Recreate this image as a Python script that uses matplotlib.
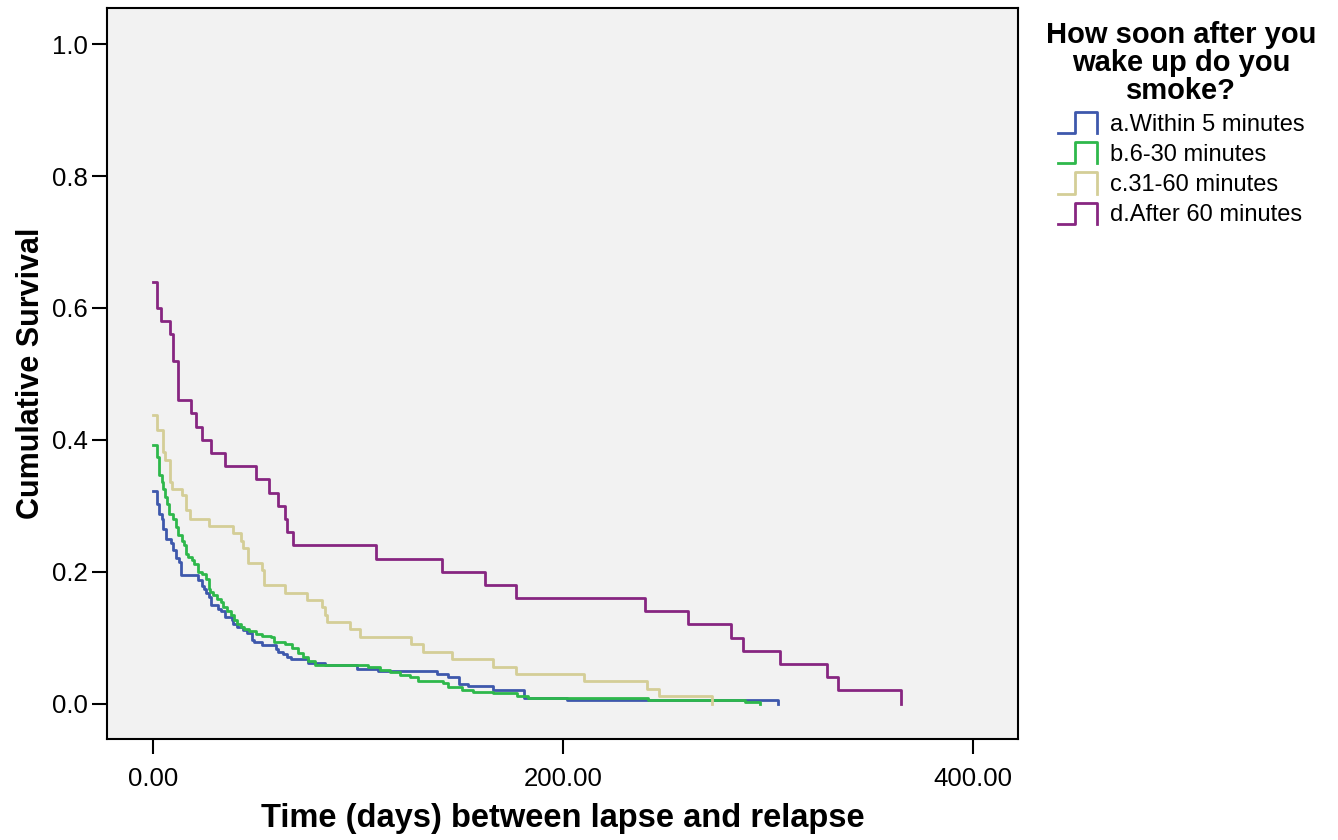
import matplotlib
matplotlib.use('Agg')
import matplotlib.pyplot as plt
from matplotlib.lines import Line2D
from matplotlib.legend_handler import HandlerBase

plt.rcParams['font.family'] = ['Liberation Sans', 'DejaVu Sans']

# Kaplan-Meier steps (days, cumulative survival)
t_a = [0, 1.8, 3.1, 4.2, 5.0, 6.3, 8.6, 9.9, 11.1, 12.7, 13.5, 22.1, 23.7, 24.9, 25.9, 27.3,
       28.1, 31.9, 33.0, 35.1, 38.4, 38.9, 41.1, 44.1, 45.7, 48.1, 49.3, 53.0, 60.0, 61.1,
       63.3, 65.2, 67.3, 75.8, 83.9, 99.3, 109.9, 138.4, 144.0, 149.4, 153.8, 166.0, 181.0,
       201.8, 305.0]
s_a = [0.323, 0.303, 0.288, 0.280, 0.265, 0.249, 0.243, 0.233, 0.221, 0.214, 0.195, 0.187,
       0.179, 0.174, 0.167, 0.161, 0.150, 0.144, 0.141, 0.132, 0.127, 0.120, 0.116, 0.111,
       0.107, 0.096, 0.093, 0.089, 0.083, 0.078, 0.075, 0.070, 0.067, 0.062, 0.058, 0.053,
       0.049, 0.045, 0.040, 0.030, 0.027, 0.020, 0.009, 0.005, 0.0]

t_b = [0, 1.8, 3.1, 4.2, 5.0, 5.9, 7.0, 8.0, 9.9, 11.1, 12.4, 14.0, 15.2, 15.9, 17.2, 18.8,
       20.2, 22.1, 23.7, 25.9, 27.3, 27.8, 29.4, 31.4, 33.0, 34.3, 36.2, 38.0, 39.5, 41.1,
       42.8, 44.4, 47.0, 50.2, 53.0, 57.6, 59.2, 64.4, 67.6, 70.9, 73.3, 75.8, 79.0, 105.0,
       110.7, 115.6, 120.5, 125.4, 129.4, 141.6, 144.0, 150.6, 156.2, 166.0, 177.4, 183.0,
       241.6, 288.8, 296.0]
s_b = [0.392, 0.374, 0.346, 0.336, 0.326, 0.313, 0.303, 0.288, 0.280, 0.268, 0.255, 0.247,
       0.240, 0.227, 0.222, 0.218, 0.212, 0.199, 0.197, 0.189, 0.174, 0.169, 0.164, 0.159,
       0.154, 0.146, 0.140, 0.134, 0.127, 0.120, 0.116, 0.113, 0.110, 0.106, 0.103, 0.101,
       0.093, 0.091, 0.085, 0.076, 0.070, 0.065, 0.059, 0.055, 0.051, 0.048, 0.044, 0.040,
       0.035, 0.031, 0.025, 0.020, 0.017, 0.016, 0.012, 0.009, 0.006, 0.003, 0.0]

t_c = [0, 1.8, 5.0, 5.9, 8.1, 9.1, 14.3, 15.9, 18.0, 27.3, 38.9, 42.9, 44.0, 46.2, 53.0,
       54.3, 64.4, 75.0, 82.4, 83.9, 85.0, 96.1, 101.0, 125.9, 131.9, 146.0, 166.0, 177.0,
       210.0, 240.8, 246.8, 272.8]
s_c = [0.438, 0.415, 0.381, 0.370, 0.336, 0.326, 0.316, 0.293, 0.280, 0.269, 0.259, 0.247,
       0.236, 0.213, 0.202, 0.180, 0.168, 0.157, 0.146, 0.135, 0.124, 0.113, 0.101, 0.090,
       0.079, 0.067, 0.056, 0.045, 0.034, 0.022, 0.011, 0.0]

t_d = [0, 1.8, 3.9, 8.3, 9.9, 12.0, 18.4, 20.8, 23.7, 28.1, 35.1, 50.1, 56.8, 60.8, 64.4,
       65.2, 68.1, 109.0, 141.0, 162.0, 177.0, 240.0, 260.8, 281.8, 288.0, 305.9, 328.6,
       334.0, 365.0]
s_d = [0.64, 0.60, 0.58, 0.56, 0.52, 0.46, 0.44, 0.42, 0.40, 0.38, 0.36, 0.34, 0.32, 0.30,
       0.28, 0.26, 0.24, 0.22, 0.20, 0.18, 0.16, 0.14, 0.12, 0.10, 0.08, 0.06, 0.04, 0.02, 0.0]

labels = ['a.Within 5 minutes', 'b.6-30 minutes', 'c.31-60 minutes', 'd.After 60 minutes']
colors = ['#3E58AC', '#2EB84B', '#D4CE97', '#872681']
xticks = [0, 200, 400]
xtick_labels = ['0.00', '200.00', '400.00']
yticks = [0.0, 0.2, 0.4, 0.6, 0.8, 1.0]


class StepHandler(HandlerBase):
    # SPSS style step icon in the legend
    def create_artists(self, legend, orig_handle, xdescent, ydescent, width, height, fontsize, trans):
        x0, y0 = -xdescent, -ydescent
        xs = [x0, x0 + 0.45 * width, x0 + 0.45 * width, x0 + width, x0 + width]
        ys = [y0, y0, y0 + height, y0 + height, y0]
        ln = Line2D(xs, ys, color=orig_handle.get_color(), lw=2.0)
        ln.set_transform(trans)
        return [ln]


fig = plt.figure(figsize=(13.38, 8.4), dpi=100)
ax = fig.add_axes([0.080, 0.120, 0.681, 0.8705])
ax.set_facecolor('#F2F2F2')

handles = []
for t, s, c, lab in zip([t_a, t_b, t_c, t_d], [s_a, s_b, s_c, s_d], colors, labels):
    h, = ax.step(t, s, where='post', color=c, lw=2.0, label=lab)
    handles.append(h)

ax.set_xlim(-22.4, 422)
ax.set_ylim(-0.054, 1.055)
ax.set_xticks(xticks)
ax.set_xticklabels(xtick_labels)
ax.set_yticks(yticks)
ax.set_yticklabels([f'{v:.1f}' for v in yticks])
ax.tick_params(direction='out', length=11, width=1.5, labelsize=18.5, pad=3, colors='black')
ax.tick_params(axis='x', pad=9)
for sp in ax.spines.values():
    sp.set_linewidth(1.5)
    sp.set_color('black')

ax.set_xlabel('Time (days) between lapse and relapse', fontsize=23.5, fontweight='bold', labelpad=9)
ax.set_ylabel('Cumulative Survival', fontsize=22, fontweight='bold', labelpad=4)

leg = ax.legend(handles=handles, labels=labels, handler_map={Line2D: StepHandler()},
                loc='upper center', bbox_to_anchor=(1181 / 1338, 1 - 0 / 840),
                bbox_transform=fig.transFigure, frameon=False, fontsize=17,
                title='How soon after you\nwake up do you\nsmoke?',
                title_fontproperties={'weight': 'bold', 'size': 21},
                handlelength=1.65, handleheight=1.0, handletextpad=0.55, labelspacing=0.28)
leg.get_title().set_multialignment('center')
leg.get_title().set_linespacing(1.0)

fig.savefig('out.png', dpi=100, facecolor='white')
